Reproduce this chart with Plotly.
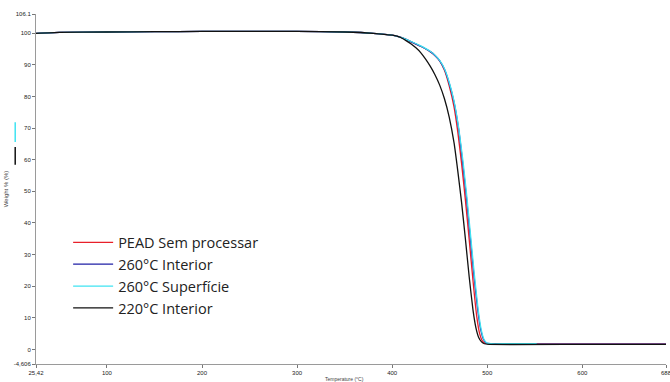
import plotly.graph_objects as go

# --- data ---
temp_flat = [25.42, 50, 100, 150, 200, 250, 300, 350, 380, 400]
weight_flat = [100.0, 100.3, 100.4, 100.5, 100.6, 100.6, 100.6, 100.4, 100.0, 99.4]

temp_pead = temp_flat + [410, 420, 430, 440, 445, 450, 455, 460, 465, 469, 473, 477, 481, 485, 489, 492, 495, 498, 520, 600, 688]
weight_pead = weight_flat + [98.6, 97.3, 95.9, 94.2, 93.0, 91.3, 88.3, 83.4, 76.8, 68.8, 58.8, 47.3, 34.8, 21.8, 10.3, 5.0, 2.6, 1.9, 1.7, 1.7, 1.7]

temp_260i = temp_flat + [410, 420, 430, 440, 445, 450, 455, 460, 465, 470, 474, 478, 482, 486, 490, 493, 496, 499, 503, 520, 600, 688]
weight_260i = weight_flat + [98.6, 97.3, 95.9, 94.2, 93.0, 91.3, 88.6, 84.2, 78.3, 69.5, 59.5, 48.5, 36.0, 23.5, 12.5, 6.5, 3.2, 2.0, 1.8, 1.7, 1.7, 1.7]

temp_260s = temp_flat + [410, 420, 430, 440, 445, 450, 455, 460, 465, 470, 474.5, 478.5, 482.5, 486.5, 490.5, 493.5, 496.5, 499.5, 504, 520, 552]
weight_260s = weight_flat + [98.6, 97.4, 96.0, 94.3, 93.1, 91.4, 88.8, 84.5, 78.6, 70.0, 59.5, 48.5, 36.0, 23.5, 12.5, 6.5, 3.2, 2.0, 1.8, 1.8, 1.8]

temp_220i = temp_flat + [405, 410, 415, 420, 425, 430, 435, 440, 445, 450, 455, 460, 465, 469, 473, 477, 481, 485, 488, 491, 494, 497, 502, 600, 688]
weight_220i = weight_flat + [99.1, 98.5, 97.6, 96.6, 95.4, 93.9, 91.9, 89.6, 86.9, 83.6, 79.3, 73.5, 65.5, 56.5, 46.5, 35.0, 23.0, 12.5, 7.0, 3.8, 2.4, 1.8, 1.6, 1.6, 1.6]

series_names = ["PEAD Sem processar", "260°C Interior", "260°C Superfície", "220°C Interior"]
series_colors = ["#e8202a", "#1f1fa6", "#3fe3f2", "#111111"]

x_tickvals = [25.42, 100, 200, 300, 400, 500, 600, 688]
x_ticktext = ["25,42", "100", "200", "300", "400", "500", "600", "688"]
y_tickvals = [-4.606, 0, 10, 20, 30, 40, 50, 60, 70, 80, 90, 100, 106.1]
y_ticktext = ["-4,606", "0", "10", "20", "30", "40", "50", "60", "70", "80", "90", "100", "106.1"]

fig = go.Figure()
for t, w, name, col in zip(
    [temp_pead, temp_260i, temp_260s, temp_220i],
    [weight_pead, weight_260i, weight_260s, weight_220i],
    series_names, series_colors,
):
    fig.add_trace(go.Scatter(x=t, y=w, mode="lines", name=name,
                             line=dict(color=col, width=1.3, shape="spline", smoothing=0.4)))

axis_common = dict(showgrid=False, zeroline=False, showline=True, linecolor="#9a9a9a",
                   linewidth=1, ticks="outside", ticklen=3, tickcolor="#777",
                   ticklabeloverflow="allow", automargin=False,
                   tickfont=dict(family="Liberation Sans", size=6, color="#222"))

fig.update_layout(
    width=670, height=382,
    margin=dict(l=36, r=4, t=14, b=18),
    paper_bgcolor="white", plot_bgcolor="white",
    showlegend=True,
    legend=dict(x=0.051, y=0.393, xanchor="left", yanchor="top",
                font=dict(family="Open Sans", size=14.5, color="#222"),
                bgcolor="rgba(0,0,0,0)", itemwidth=40, tracegroupgap=0),
    xaxis=dict(range=[25.42, 688], tickvals=x_tickvals, ticktext=x_ticktext, **axis_common),
    yaxis=dict(range=[-4.606, 106.1], tickvals=y_tickvals, ticktext=y_ticktext,
               title=dict(text="Weight % (%)", font=dict(family="Liberation Sans", size=6, color="#444"), standoff=4),
               **axis_common),
    annotations=[
        dict(text="Temperature (°C)", xref="paper", yref="paper", x=0.49, y=-0.044,
             xanchor="center", yanchor="middle", showarrow=False,
             font=dict(family="Liberation Sans", size=5, color="#444")),
    ],
    shapes=[
        dict(type="line", xref="paper", yref="paper", x0=-0.033, x1=-0.033, y0=0.634, y1=0.691,
             line=dict(color="#3fe3f2", width=1.5)),
        dict(type="line", xref="paper", yref="paper", x0=-0.033, x1=-0.033, y0=0.569, y1=0.62,
             line=dict(color="#111111", width=1.5)),
    ],
)

fig.write_html("out.html", config={"displayModeBar": False},
               post_script="document.body.style.margin='0';document.body.style.padding='0';document.body.style.overflow='hidden';")
